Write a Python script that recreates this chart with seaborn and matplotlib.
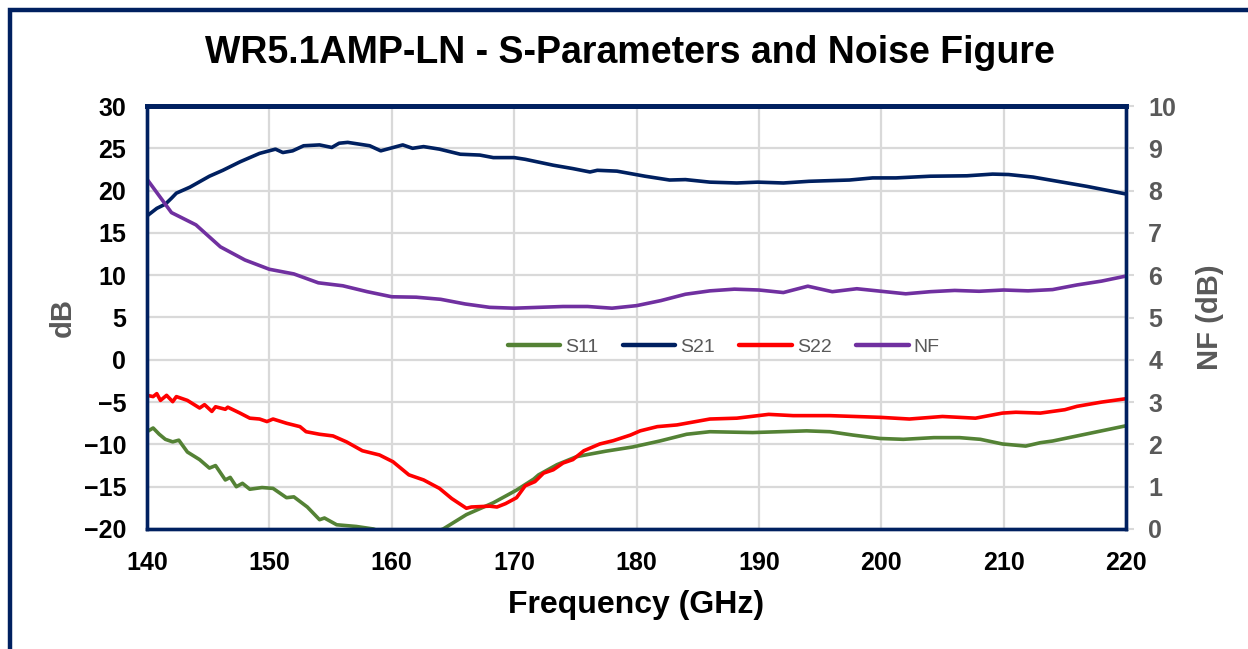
import matplotlib
matplotlib.use("Agg")
import matplotlib.pyplot as plt
import seaborn as sns
from matplotlib.patches import Rectangle

# ---------------- data ----------------
f11 = [140.0,140.5,141.0,141.5,142.1,142.6,143.3,144.3,145.1,145.6,146.4,146.8,147.3,147.8,148.4,149.4,150.3,
       151.4,152.0,153.1,154.1,154.5,155.5,157.1,158.5,160,162,164.2,166.1,168.3,170.2,171.6,172,173.5,175.1,
       176.0,177.5,179.7,181.9,184.1,186.0,189.5,191.7,193.9,195.8,197.7,199.9,201.8,204.3,206.4,208.1,209.9,
       211.8,213.0,214.0,216.0,218.0,220.0]
s11 = [-8.5,-8.06,-8.8,-9.4,-9.7,-9.5,-10.9,-11.8,-12.8,-12.5,-14.2,-13.9,-15.0,-14.6,-15.3,-15.1,-15.2,
       -16.3,-16.2,-17.4,-18.9,-18.7,-19.5,-19.7,-20.0,-20.8,-21.2,-20.0,-18.3,-16.9,-15.4,-14.1,-13.6,-12.4,-11.45,
       -11.2,-10.8,-10.3,-9.6,-8.8,-8.5,-8.6,-8.5,-8.4,-8.5,-8.9,-9.3,-9.4,-9.2,-9.2,-9.4,-9.95,
       -10.2,-9.8,-9.6,-9.0,-8.4,-7.8]

f21 = [140.0,140.8,141.5,142.0,142.4,143.5,144.3,145.1,146.2,147.6,149.2,150.5,151.1,151.9,152.8,154.1,155.1,
       155.7,156.4,158.2,159.1,160.9,161.7,162.6,163.9,165.6,167.2,168.3,170.0,170.9,173.2,174.8,176.2,176.8,
       178.4,180.7,182.7,184.0,186.0,188.2,189.9,192.0,194.1,197.4,199.3,201.2,204.0,207.0,209.1,210.4,212.4,
       214.6,216.8,220.0]
s21 = [17.0,17.9,18.4,19.1,19.7,20.4,21.05,21.7,22.4,23.4,24.4,24.9,24.5,24.7,25.3,25.4,25.1,
       25.6,25.7,25.3,24.7,25.4,25.0,25.2,24.9,24.3,24.2,23.9,23.9,23.7,23.0,22.6,22.2,22.4,
       22.3,21.7,21.25,21.3,21.0,20.9,21.0,20.9,21.1,21.25,21.5,21.5,21.7,21.75,21.95,21.9,21.6,
       21.05,20.5,19.6]

f22 = [140.0,140.5,140.8,141.1,141.6,142.1,142.4,143.3,144.3,144.7,145.3,145.6,146.4,146.6,147.6,148.4,149.2,
       149.8,150.3,151.4,152.5,153.0,154.1,155.2,156.3,157.6,159.0,160.1,161.4,162.6,163.9,164.9,166.1,166.5,
       168.0,168.6,169.3,170.2,170.9,171.7,172.4,173.2,174.0,174.8,175.7,177.0,178.1,179.5,180.3,181.7,183.3,
       186.0,188.2,190.8,192.8,195.8,199.9,202.3,205.0,207.7,209.9,211.0,213.0,215.0,216.0,218.0,220.0]
s22 = [-4.2,-4.35,-4.0,-4.8,-4.2,-4.95,-4.35,-4.8,-5.7,-5.3,-6.1,-5.55,-5.85,-5.6,-6.3,-6.9,-7.0,
       -7.3,-7.0,-7.5,-7.9,-8.5,-8.8,-9.0,-9.7,-10.75,-11.25,-12.05,-13.6,-14.2,-15.2,-16.4,-17.55,-17.4,
       -17.3,-17.4,-17.0,-16.3,-14.9,-14.4,-13.4,-13.0,-12.2,-11.8,-10.75,-9.95,-9.56,-8.9,-8.4,-7.9,-7.7,
       -7.0,-6.9,-6.45,-6.6,-6.6,-6.8,-7.0,-6.7,-6.9,-6.3,-6.2,-6.3,-5.9,-5.5,-5.0,-4.6]

fnf = [140,142,144,146,148,150,152,154,156,158,160,162,164,166,168,170,172,174,176,178,180,
       182,184,186,188,190,192,194,196,198,200,202,204,206,208,210,212,214,216,218,220]
nf = [8.27,7.48,7.19,6.67,6.36,6.14,6.03,5.82,5.75,5.61,5.49,5.48,5.43,5.32,5.24,5.22,5.24,5.26,5.26,5.22,5.28,
      5.40,5.55,5.63,5.67,5.65,5.59,5.74,5.61,5.68,5.62,5.56,5.61,5.64,5.62,5.65,5.63,5.66,5.77,5.86,5.98]

x_ticks = [140, 150, 160, 170, 180, 190, 200, 210, 220]
db_ticks = [-20, -15, -10, -5, 0, 5, 10, 15, 20, 25, 30]
nf_ticks = [0, 1, 2, 3, 4, 5, 6, 7, 8, 9, 10]

title = "WR5.1AMP-LN - S-Parameters and Noise Figure"

# ---------------- style ----------------
sns.set_theme(style="white")
plt.rcParams['font.family'] = ['Liberation Sans', 'DejaVu Sans']

NAVY = "#002060"
GREEN = "#548235"
RED = "#FF0000"
PURPLE = "#7030A0"
GRAY = "#595959"
GRID = "#D9D9D9"

W, H = 1248, 649
fig = plt.figure(figsize=(W / 100, H / 100), dpi=100)
fig.patch.set_facecolor("white")

# outer border
fig.patches.append(Rectangle((9.5 / W, -0.05), 1.2, 1 - 10 / H + 0.05, transform=fig.transFigure,
                             fill=False, edgecolor=NAVY, linewidth=3.2, zorder=0))

ax = fig.add_axes([147 / W, (H - 529) / H, (1126 - 147) / W, (529 - 106) / H])
ax2 = ax.twinx()

lw = 2.6
sns.lineplot(x=f11, y=s11, ax=ax, color=GREEN, lw=lw, label="S11")
sns.lineplot(x=f21, y=s21, ax=ax, color=NAVY, lw=lw, label="S21")
sns.lineplot(x=f22, y=s22, ax=ax, color=RED, lw=lw, label="S22")
sns.lineplot(x=fnf, y=nf, ax=ax2, color=PURPLE, lw=lw, label="NF")

ax.set_xlim(140, 220)
ax.set_ylim(-20, 30)
ax2.set_ylim(0, 10)
ax.set_xticks(x_ticks)
ax.set_yticks(db_ticks)
ax2.set_yticks(nf_ticks)

ax.grid(True, color=GRID, lw=1.6)
ax.set_axisbelow(True)
ax2.grid(False)

for a in (ax, ax2):
    for s in a.spines.values():
        s.set_color(NAVY)
        s.set_linewidth(2.4)
    a.spines['top'].set_linewidth(3.5)

ax.tick_params(axis='x', length=0, pad=16, labelsize=18, labelcolor='black')
ax.tick_params(axis='y', length=0, pad=15, labelsize=18, labelcolor='black')
for t in ax.get_xticklabels() + ax.get_yticklabels():
    t.set_fontweight('bold')
ax2.tick_params(axis='y', length=6, width=1.5, color=GRID, pad=10, labelsize=18, labelcolor=GRAY)
for t in ax2.get_yticklabels():
    t.set_fontweight('bold')

ax.set_xlabel("Frequency (GHz)", fontsize=23, fontweight='bold', color='black', labelpad=11)
ax.set_ylabel("dB", fontsize=21, fontweight='bold', color=GRAY, labelpad=5)
ax2.set_ylabel("NF (dB)", fontsize=21, fontweight='bold', color=GRAY, labelpad=14)

fig.text(0.5 + 0.005, 1 - 53 / H, title, ha='center', va='center', fontsize=27, fontweight='bold', color='black')

# legend
handles = ax.get_lines()[:3] + ax2.get_lines()[:1]
if ax.get_legend():
    ax.get_legend().remove()
if ax2.get_legend():
    ax2.get_legend().remove()
leg = ax2.legend(handles, ["S11", "S21", "S22", "NF"], loc='center', bbox_to_anchor=(0.589, 0.43),
                 ncol=4, frameon=False, fontsize=14, handlelength=2.7, handletextpad=0.26,
                 columnspacing=1.25, labelcolor=GRAY)
for l in leg.get_lines():
    l.set_linewidth(3.2)
leg.set_zorder(5)

fig.savefig("out.png", dpi=100, facecolor="white")
